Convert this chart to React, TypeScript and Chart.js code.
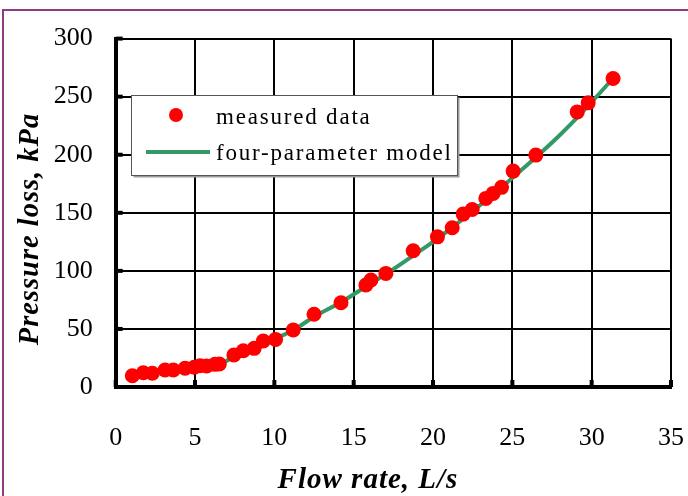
import React, { useEffect, useRef } from "react";
import { Chart, registerables } from "chart.js";

Chart.register(...registerables);

// Measured pressure loss against flow rate
const flowRate = [
  1.05, 1.74, 2.31, 3.11, 3.63, 4.37, 4.95, 5.31, 5.73, 6.26, 6.53, 7.45, 8.04, 8.73, 9.3, 10.08, 11.19,
  12.5, 14.2, 15.77, 16.09, 17.03, 18.75, 20.28, 21.21, 21.9, 22.47, 23.33, 23.79, 24.32, 25.05, 26.48,
  29.09, 29.78, 31.35,
];
const pressureLoss = [
  9.7, 12.3, 11.8, 14.6, 14.6, 16.1, 17.0, 18.3, 18.1, 19.5, 19.8, 27.5, 31.2, 33.3, 39.6, 41.0, 49.1,
  62.6, 72.5, 87.8, 92.1, 97.8, 117.3, 129.3, 137.1, 148.9, 152.9, 162.4, 166.7, 171.9, 185.9, 199.7,
  236.9, 244.7, 265.7,
];

// Four-parameter model curve
const modelFlow = [
  1.0, 2.0, 3.0, 4.0, 5.0, 6.0, 6.6, 7.5, 8.5, 10.0, 11.2, 12.5, 14.2, 16.0, 17.5, 19.0, 20.5, 22.0,
  23.5, 25.0, 26.5, 28.0, 29.5, 31.3,
];
const modelLoss = [
  9.3, 11.2, 13.2, 15.0, 16.8, 18.6, 20.0, 26.5, 33.0, 41.2, 49.0, 60.5, 73.0, 88.5, 101.5, 115.5,
  130.0, 146.0, 162.5, 180.0, 198.0, 217.0, 238.0, 265.0,
];

const xTickValues = [0, 5, 10, 15, 20, 25, 30, 35];
const yTickValues = [0, 50, 100, 150, 200, 250, 300];

const seriesNames = ["measured data", "four-parameter model"];
const axisTitles = { x: "Flow rate, L/s", y: "Pressure loss, kPa" };

const RED = "#ff0000";
const GREEN = "#339966";
const FRAME = "#8e3b7f";
const SERIF = "'Liberation Serif', 'Times New Roman', serif";

const decorPlugin = {
  id: "decor",
  beforeDatasetsDraw(chart: any) {
    const { ctx, chartArea, scales } = chart;
    ctx.save();
    ctx.strokeStyle = "#000";
    ctx.lineWidth = 4;
    // short inward tick marks along the left and bottom borders
    for (const v of yTickValues) {
      const y = scales.y.getPixelForValue(v);
      ctx.beginPath();
      ctx.moveTo(chartArea.left, y);
      ctx.lineTo(chartArea.left + 7, y);
      ctx.stroke();
    }
    for (const v of xTickValues) {
      const x = scales.x.getPixelForValue(v);
      ctx.beginPath();
      ctx.moveTo(x, chartArea.bottom);
      ctx.lineTo(x, chartArea.bottom - 7);
      ctx.stroke();
    }
    ctx.restore();
  },
  afterDraw(chart: any) {
    const { ctx } = chart;
    ctx.save();
    // axis titles
    ctx.fillStyle = "#000";
    ctx.textAlign = "center";
    ctx.textBaseline = "middle";
    ctx.font = `italic bold 29px ${SERIF}`;
    (ctx as any).letterSpacing = "1px";
    ctx.fillText(axisTitles.x, 368, 481);
    ctx.font = `italic bold 28.5px ${SERIF}`;
    ctx.save();
    ctx.translate(31, 229);
    ctx.rotate(-Math.PI / 2);
    ctx.fillText(axisTitles.y, 0, 0);
    ctx.restore();

    // legend box
    const bx = 131.5, by = 95.5, bw = 326, bh = 80;
    ctx.fillStyle = "#9a9a9a";
    ctx.fillRect(bx + 2, by + 2, bw, bh);
    ctx.fillStyle = "#fff";
    ctx.fillRect(bx, by, bw, bh);
    ctx.strokeStyle = "#555";
    ctx.lineWidth = 1;
    ctx.strokeRect(bx, by, bw, bh);

    ctx.fillStyle = RED;
    ctx.beginPath();
    ctx.arc(176, 115, 7, 0, Math.PI * 2);
    ctx.fill();

    ctx.strokeStyle = GREEN;
    ctx.lineWidth = 4;
    ctx.beginPath();
    ctx.moveTo(146, 152);
    ctx.lineTo(210, 152);
    ctx.stroke();

    ctx.fillStyle = "#000";
    ctx.font = `23px ${SERIF}`;
    ctx.textAlign = "left";
    ctx.textBaseline = "alphabetic";
    (ctx as any).letterSpacing = "1.8px";
    ctx.fillText(seriesNames[0], 216, 124);
    ctx.fillText(seriesNames[1], 216, 160);
    ctx.restore();
  },
};

export default function App() {
  const ref = useRef<HTMLCanvasElement>(null);

  useEffect(() => {
    document.body.style.margin = "0";
    const canvas = ref.current!;
    const chart = new Chart(canvas, {
      type: "scatter",
      data: {
        datasets: [
          {
            label: seriesNames[0],
            data: flowRate.map((x, i) => ({ x, y: pressureLoss[i] })),
            backgroundColor: RED,
            borderColor: RED,
            borderWidth: 0,
            pointRadius: 7.5,
            showLine: false,
          },
          {
            label: seriesNames[1],
            type: "line",
            data: modelFlow.map((x, i) => ({ x, y: modelLoss[i] })),
            borderColor: GREEN,
            borderWidth: 4,
            pointRadius: 0,
            showLine: true,
            fill: false,
            cubicInterpolationMode: "monotone",
          } as any,
        ],
      },
      options: {
        responsive: false,
        animation: false,
        events: [],
        layout: { padding: { top: 38.6, right: 17, left: 0, bottom: 0 } },
        plugins: { legend: { display: false }, tooltip: { enabled: false } },
        scales: {
          x: {
            type: "linear",
            min: 0,
            max: 35,
            afterBuildTicks: (s: any) => {
              s.ticks = xTickValues.map((value) => ({ value }));
            },
            afterFit: (s: any) => {
              s.height = 109;
              s.paddingLeft = 0;
              s.paddingRight = 0;
            },
            grid: { color: "#000", lineWidth: 2, drawTicks: false },
            border: { color: "#000", width: 4 },
            ticks: { color: "#000", padding: 36, font: { family: SERIF, size: 26 } },
          },
          y: {
            type: "linear",
            min: 0,
            max: 300,
            afterBuildTicks: (s: any) => {
              s.ticks = yTickValues.map((value) => ({ value }));
            },
            afterFit: (s: any) => {
              s.width = 115.7;
              s.paddingTop = 0;
              s.paddingBottom = 0;
            },
            grid: { color: "#000", lineWidth: 2, drawTicks: false },
            border: { color: "#000", width: 4 },
            ticks: { color: "#000", padding: 23, font: { family: SERIF, size: 26 } },
          },
        },
      },
      plugins: [decorPlugin],
    });
    return () => chart.destroy();
  }, []);

  return (
    <div style={{ position: "relative", width: 688, height: 496, overflow: "hidden" }}>
      <canvas ref={ref} width={688} height={496} style={{ display: "block", width: "688px", height: "496px" }} />
      {/* purple frame along the left and top edges */}
      <div
        style={{
          position: "absolute",
          left: 2,
          top: 9,
          width: 700,
          height: 500,
          borderLeft: `2.5px solid ${FRAME}`,
          borderTop: `2.5px solid ${FRAME}`,
          pointerEvents: "none",
        }}
      />
    </div>
  );
}
